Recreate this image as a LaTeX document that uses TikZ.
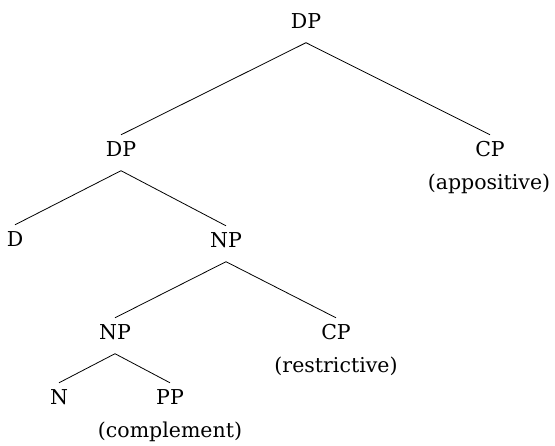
\documentclass[tikz,border=0pt]{standalone}
\usepackage{fontspec}
\setmainfont{DejaVu Serif}
\begin{document}
\begin{tikzpicture}[x=1pt,y=-1pt,
  cat/.style={inner sep=0pt,anchor=base,font=\fontsize{20.5}{24}\selectfont,
              text height=15pt,text depth=0pt},
  note/.style={cat},
  branch/.style={line width=0.8pt,black}]
\useasboundingbox (0,0) rectangle (555,446);
% categories (positioned by baseline)
\node[cat] (dp0) at (306,29) {DP};
\node[cat] (dp1) at (121,157) {DP};
\node[cat] (cp1) at (490,157) {CP};
\node[note] (app) at (489,190) {(appositive)};
\node[cat] (d) at (15,247) {D};
\node[cat] (np1) at (226,248) {NP};
\node[cat] (np2) at (115,340) {NP};
\node[cat] (cp2) at (336,340) {CP};
\node[note] (res) at (336,373) {(restrictive)};
\node[cat] (n) at (59,405) {N};
\node[cat] (pp) at (170,405) {PP};
\node[note] (comp) at (170,438) {(complement)};
% branches: from just below the mother to just above each daughter
\foreach \m/\d in {dp0/dp1,dp0/cp1,dp1/d,dp1/np1,np1/np2,np1/cp2,np2/n,np2/pp}
  \draw[branch] ([yshift=-13.5pt]\m.south) -- ([yshift=7pt]\d.north);
\end{tikzpicture}
\end{document}
